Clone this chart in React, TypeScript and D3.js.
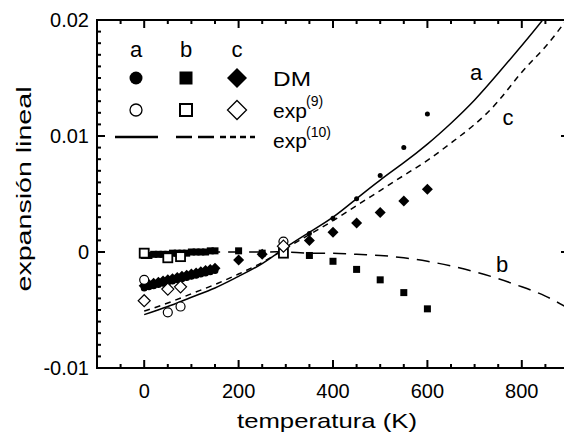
import * as d3 from "d3";

const W = 564;
const H = 433;
// plot frame (right edge sits just outside the window, as in the source)
const F = { left: 97, right: 569, top: 20, bottom: 368 };
const FONT = "'Liberation Sans', Arial, Helvetica, sans-serif";

// ── fitted curves, exp(10) ────────────────────────────────────────────────
const curveT = [0, 50, 100, 150, 200, 250, 300, 350, 400, 450, 500, 550, 600, 650, 700, 750, 800, 850, 900];
const curveA = [-0.0054, -0.0047, -0.0039, -0.0031, -0.0021, -0.001, 0.0004, 0.0017, 0.003, 0.0046, 0.0062, 0.0077, 0.0093, 0.0111, 0.0131, 0.0154, 0.0178, 0.0203, 0.023];
const curveB = [-0.0002, -0.0001, -0.0001, 0.0, 0.0, 0.0, 0.0, -0.0001, -0.0001, -0.0002, -0.0003, -0.0005, -0.0008, -0.0012, -0.0017, -0.0023, -0.003, -0.0038, -0.0049];
const curveC = [-0.0051, -0.0044, -0.0036, -0.0028, -0.0019, -0.0009, 0.0003, 0.0015, 0.0027, 0.004, 0.0053, 0.0066, 0.0079, 0.0094, 0.011, 0.013, 0.0155, 0.0177, 0.0203];

// ── DM points (filled) ────────────────────────────────────────────────────
const dmAT = [0, 10, 20, 30, 40, 50, 60, 70, 80, 90, 100, 110, 120, 130, 140, 150, 350, 400, 450, 500, 550, 600];
const dmAV = [-0.0031, -0.003, -0.0029, -0.0028, -0.0027, -0.0026, -0.0025, -0.0024, -0.0023, -0.0022, -0.0021, -0.002, -0.0019, -0.0018, -0.0017, -0.0016, 0.0016, 0.0029, 0.0046, 0.0066, 0.009, 0.0119];

const dmBT = [0, 10, 20, 30, 40, 50, 60, 70, 80, 90, 100, 110, 120, 130, 140, 150, 200, 250, 350, 400, 450, 500, 550, 600];
const dmBV = [-0.0003, -0.0003, -0.0002, -0.0002, -0.0002, -0.0002, -0.0001, -0.0001, -0.0001, -0.0001, 0.0, 0.0, 0.0, 0.0, 0.0001, 0.0001, 0.0001, -0.0001, -0.0003, -0.0008, -0.0015, -0.0024, -0.0035, -0.0049];

const dmCT = [0, 10, 20, 30, 40, 50, 60, 70, 80, 90, 100, 110, 120, 130, 140, 150, 200, 250, 350, 400, 450, 500, 550, 600];
const dmCV = [-0.0029, -0.0028, -0.0027, -0.0026, -0.0025, -0.0024, -0.0023, -0.0022, -0.0021, -0.002, -0.0019, -0.0018, -0.0017, -0.0016, -0.0015, -0.0014, -0.0007, -0.0002, 0.001, 0.0017, 0.0025, 0.0034, 0.0044, 0.0054];

// ── exp(9) points (open) ──────────────────────────────────────────────────
const expT = [0, 50, 77, 295];
const expA = [-0.0024, -0.0052, -0.0047, 0.0009];
const expB = [-0.0001, -0.0005, -0.0004, -0.0001];
const expC = [-0.0042, -0.0032, -0.003, 0.0005];

// ── ticks ─────────────────────────────────────────────────────────────────
const xMajor = [0, 200, 400, 600, 800];
const xMinor = [-50, 50, 100, 150, 250, 300, 350, 450, 500, 550, 650, 700, 750, 850];
const yMajor = [-0.01, 0, 0.01, 0.02];
const yLabels = ["-0.01", "0", "0.01", "0.02"];
const yMinor = d3.range(-0.009, 0.02, 0.001).filter(v => Math.abs(Math.round(v * 100) - v * 100) > 1e-6);

const diamond = (cx: number, cy: number, r: number) =>
  `M${cx},${cy - r}L${cx + r},${cy}L${cx},${cy + r}L${cx - r},${cy}Z`;

export default function App() {
  const x = d3.scaleLinear().domain([-100, 900]).range([F.left, F.right]);
  const y = d3.scaleLinear().domain([-0.01, 0.02]).range([F.bottom, F.top]);

  const path = (vals: number[]) =>
    d3.line<number>()
      .x((_, i) => x(curveT[i]))
      .y(v => y(v))
      .curve(d3.curveNatural)(vals) || "";

  const txt = { fontFamily: FONT, fill: "#000" } as const;

  return (
    <div style={{ position: "fixed", left: 0, top: 0, background: "#fff" }}>
      <svg width={W} height={H} viewBox={`0 0 ${W} ${H}`} style={{ display: "block" }}>
        <defs>
          <clipPath id="plot">
            <rect x={F.left} y={F.top} width={F.right - F.left} height={F.bottom - F.top} />
          </clipPath>
        </defs>
        <rect width={W} height={H} fill="#fff" />

        {/* curves */}
        <g clipPath="url(#plot)" fill="none" stroke="#000" strokeWidth={1.5}>
          <path d={path(curveA)} />
          <path d={path(curveC)} strokeDasharray="6,5" />
          <path d={path(curveB)} strokeDasharray="13,8" />
        </g>

        {/* DM filled points */}
        <g fill="#000">
          {dmCT.map((t, i) => (
            <path key={"dc" + i} d={diamond(x(t), y(dmCV[i]), 5.5)} />
          ))}
          {dmAT.map((t, i) => (
            <circle key={"da" + i} cx={x(t)} cy={y(dmAV[i])} r={t < 300 ? 3.5 : 2.5} />
          ))}
          {dmBT.map((t, i) => (
            <rect key={"db" + i} x={x(t) - 3.5} y={y(dmBV[i]) - 3.5} width={7} height={7} />
          ))}
        </g>

        {/* exp(9) open points */}
        <g fill="#fff" stroke="#000" strokeWidth={1.2}>
          {expT.map((t, i) => (
            <circle key={"ea" + i} cx={x(t)} cy={y(expA[i])} r={4.5} />
          ))}
          {expT.map((t, i) => (
            <rect key={"eb" + i} x={x(t) - 4.5} y={y(expB[i]) - 4.5} width={9} height={9} strokeWidth={1.8} />
          ))}
          {expT.map((t, i) => (
            <path key={"ec" + i} d={diamond(x(t), y(expC[i]), 6)} />
          ))}
        </g>

        {/* frame + ticks */}
        <g stroke="#000" strokeWidth={2}>
          {xMajor.map(t => (
            <g key={"xM" + t}>
              <line x1={x(t)} x2={x(t)} y1={F.bottom} y2={F.bottom - 8} />
              <line x1={x(t)} x2={x(t)} y1={F.top} y2={F.top + 8} />
            </g>
          ))}
          {xMinor.map(t => (
            <g key={"xm" + t}>
              <line x1={x(t)} x2={x(t)} y1={F.bottom} y2={F.bottom - 4} />
              <line x1={x(t)} x2={x(t)} y1={F.top} y2={F.top + 4} />
            </g>
          ))}
          {yMajor.map(v => (
            <g key={"yM" + v}>
              <line x1={F.left} x2={F.left + 8} y1={y(v)} y2={y(v)} />
              <line x1={F.right} x2={F.right - 8} y1={y(v)} y2={y(v)} />
            </g>
          ))}
          {yMinor.map(v => (
            <g key={"ym" + v}>
              <line x1={F.left} x2={F.left + 4} y1={y(v)} y2={y(v)} />
              <line x1={F.right} x2={F.right - 4} y1={y(v)} y2={y(v)} />
            </g>
          ))}
          <rect x={F.left} y={F.top} width={F.right - F.left} height={F.bottom - F.top} fill="none" />
        </g>

        {/* tick labels */}
        <g {...txt} fontSize={20}>
          {xMajor.map(t => (
            <text key={"xl" + t} x={x(t)} y={398} textAnchor="middle">{t}</text>
          ))}
          {yMajor.map((v, i) => (
            <text key={"yl" + v} x={89} y={y(v)} dy="0.35em" textAnchor="end">{yLabels[i]}</text>
          ))}
        </g>

        {/* axis titles */}
        <text {...txt} fontSize={21} x={327} y={428} textAnchor="middle"
          textLength={180} lengthAdjust="spacingAndGlyphs">temperatura (K)</text>
        <text {...txt} fontSize={21} transform="translate(31,189) rotate(-90)" textAnchor="middle"
          textLength={205} lengthAdjust="spacingAndGlyphs">expansión lineal</text>

        {/* curve labels */}
        <g {...txt} fontSize={22} textAnchor="middle">
          <text x={476} y={80}>a</text>
          <text x={508} y={125}>c</text>
          <text x={502} y={272}>b</text>
        </g>

        {/* legend */}
        <g {...txt} fontSize={22} textAnchor="middle">
          <text x={136} y={57}>a</text>
          <text x={186} y={57}>b</text>
          <text x={237} y={57}>c</text>
        </g>
        <circle cx={136} cy={78} r={6.5} fill="#000" />
        <rect x={179.5} y={71.5} width={13} height={13} fill="#000" />
        <path d={diamond(237, 78, 10)} fill="#000" />
        <circle cx={136} cy={110} r={6} fill="#fff" stroke="#000" strokeWidth={1.3} />
        <rect x={180} y={104} width={12} height={12} fill="#fff" stroke="#000" strokeWidth={2} />
        <path d={diamond(237, 110, 9.5)} fill="#fff" stroke="#000" strokeWidth={1.3} />
        <g stroke="#000" strokeWidth={2.5}>
          <line x1={115} x2={158} y1={137} y2={137} />
          <line x1={176} x2={214} y1={137} y2={137} strokeDasharray="16,6" />
          <line x1={220} x2={255} y1={137} y2={137} strokeDasharray="6,4" />
        </g>
        <g {...txt}>
          <text x={273} y={86} fontSize={21} textLength={38} lengthAdjust="spacingAndGlyphs">DM</text>
          <text x={273} y={118} fontSize={21}>exp</text>
          <text x={306} y={106} fontSize={14}>(9)</text>
          <text x={273} y={148} fontSize={21}>exp</text>
          <text x={306} y={137} fontSize={14}>(10)</text>
        </g>
      </svg>
    </div>
  );
}
